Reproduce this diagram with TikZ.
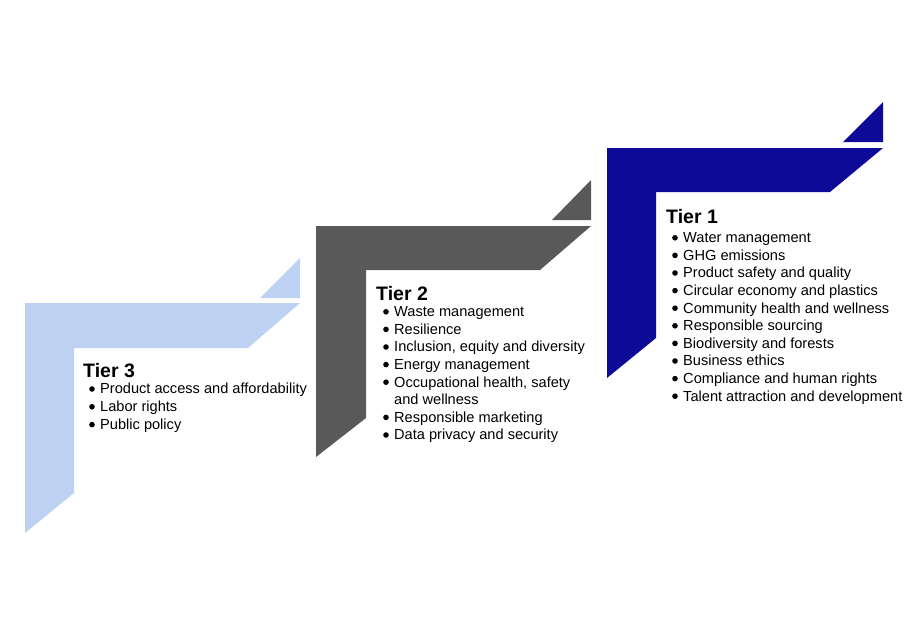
\documentclass[tikz,border=0pt]{standalone}
\usepackage{fontspec}
\setmainfont{Liberation Sans}
\definecolor{tthree}{HTML}{BDD1F2}
\definecolor{ttwo}{HTML}{595959}
\definecolor{tone}{HTML}{0E0A98}
\tikzset{
  title/.style={anchor=base west,font=\bfseries\fontsize{19.5}{19.5}\selectfont,inner sep=0pt},
  item/.style={anchor=base west,font=\fontsize{14.6}{14.6}\selectfont,inner sep=0pt},
  bul/.style={circle,fill=black,inner sep=0pt,minimum size=5.6pt}
}
\newcommand{\tierlist}[5]{% prefix, x, ybase, spacing, list
  \foreach \t [count=\i] in {#5}{
    \node[bul] (#1b\i) at (#2-8, #3+#4*\i-4.8) {};
    \node[item] (#1i\i) at (#2, #3+#4*\i) {\t};
  }
}
\begin{document}
\begin{tikzpicture}[x=1pt,y=-1pt]
\useasboundingbox (0,0) rectangle (915,626);
% Tier 3
\fill[tthree] (25,303) -- (300,303) -- (248,348) -- (74,348) -- (74,493) -- (25,533) -- cycle;
\fill[tthree] (300,258) -- (300,298) -- (260,298) -- cycle;
% Tier 2
\fill[ttwo] (316,226) -- (591,226) -- (540,270) -- (366,270) -- (366,418) -- (316,457) -- cycle;
\fill[ttwo] (591,180) -- (591,220) -- (552,220) -- cycle;
% Tier 1
\fill[tone] (607,148) -- (883,148) -- (830,192) -- (656,192) -- (656,338) -- (607,378) -- cycle;
\fill[tone] (883,102) -- (883,142) -- (843,142) -- cycle;

\node[title] (t3) at (83,377) {Tier 3};
\tierlist{c}{100}{376}{17.8}{Product access and affordability,Labor rights,Public policy}

\node[title] (t2) at (376,300) {Tier 2};
\foreach \t [count=\i] in {Waste management,Resilience,{Inclusion, equity and diversity},Energy management,{Occupational health, safety}}{
  \node[bul] (bb\i) at (386, 299+17.6*\i-4.8) {};
  \node[item] (bi\i) at (394, 299+17.6*\i) {\t};
}
\node[item] (bi6) at (394, 299+17.6*6) {and wellness};
\node[bul] (bb7) at (386, 299+17.6*7-4.8) {};
\node[item] (bi7) at (394, 299+17.6*7) {Responsible marketing};
\node[bul] (bb8) at (386, 299+17.6*8-4.8) {};
\node[item] (bi8) at (394, 299+17.6*8) {Data privacy and security};

\node[title] (t1) at (666,223) {Tier 1};
\tierlist{a}{683}{225}{17.6}{Water management,GHG emissions,Product safety and quality,Circular economy and plastics,Community health and wellness,Responsible sourcing,Biodiversity and forests,Business ethics,Compliance and human rights,Talent attraction and development}
\end{tikzpicture}
\end{document}
